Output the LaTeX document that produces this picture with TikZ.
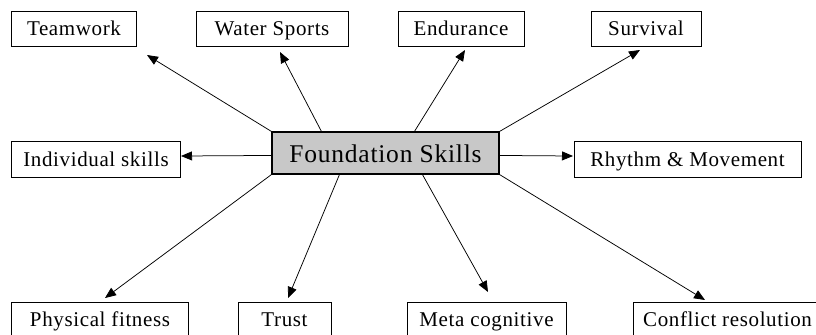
\documentclass[tikz,border=0pt]{standalone}
\usepackage{fontspec}
\setmainfont{Liberation Serif}[LetterSpace=3]
\usetikzlibrary{arrows.meta,calc}
\definecolor{boxgray}{RGB}{200,200,200}
\begin{document}
\begin{tikzpicture}[x=1bp,y=-1bp,
  leaf/.style={draw=black,line width=1bp,fill=white,inner sep=0pt,minimum height=35bp,text height=16bp,text depth=2bp,font=\fontsize{21bp}{24bp}\selectfont},
  hub/.style={draw=black,line width=1.1bp,fill=boxgray,inner sep=0pt,minimum width=227bp,minimum height=42bp,text height=20bp,text depth=2bp,font=\fontsize{25.5bp}{28bp}\selectfont},
  arr/.style={line width=0.75bp,-{Triangle[length=11bp,width=9bp]}}]
\useasboundingbox (0,0) rectangle (816,334);
\node[hub] (F) at (385.5,153) {Foundation Skills};
\node[leaf,minimum width=124bp] (team) at (74,28.5) {Teamwork};
\node[leaf,minimum width=152bp] (water) at (272,28.5) {Water Sports};
\node[leaf,minimum width=126bp] (endu) at (461,28.5) {Endurance};
\node[leaf,minimum width=110bp] (surv) at (646,28.5) {Survival};
\node[leaf,minimum width=168bp,minimum height=36bp] (indiv) at (96,159) {Individual skills};
\node[leaf,minimum width=227bp,minimum height=36bp] (rhythm) at (687.5,159) {Rhythm \& Movement};
\node[leaf,minimum width=176bp] (phys) at (100,319.5) {Physical fitness};
\node[leaf,minimum width=93bp] (trust) at (284.5,319.5) {Trust};
\node[leaf,minimum width=159bp] (meta) at (486.5,319.5) {Meta cognitive};
\node[leaf,minimum width=189bp] (confl) at (727.5,319.5) {Conflict resolution};
% arrow tips
\coordinate (tTeam) at (147,55);
\coordinate (tWater) at (280,52);
\coordinate (tEndu) at (465,50);
\coordinate (tSurv) at (640,50);
\coordinate (tIndiv) at (181,156);
\coordinate (tRhythm) at (573,156);
\coordinate (tPhys) at (105,298);
\coordinate (tTrust) at (288,298);
\coordinate (tMeta) at (488,292);
\coordinate (tConfl) at (705,300);
% arrow starts
\coordinate (sWater) at ($(F.north west)+(50,0)$);
\coordinate (sEndu) at ($(F.north west)+(143,0)$);
\coordinate (sIndiv) at ($(F.north west)+(0,24)$);
\coordinate (sRhythm) at ($(F.north east)+(0,24)$);
\coordinate (sTrust) at ($(F.south west)+(68,0)$);
\coordinate (sMeta) at ($(F.south west)+(151,0)$);
\draw[arr] (F.north west) -- (tTeam);
\draw[arr] (sWater) -- (tWater);
\draw[arr] (sEndu) -- (tEndu);
\draw[arr] (F.north east) -- (tSurv);
\draw[arr] (sIndiv) -- (tIndiv);
\draw[arr] (sRhythm) -- (tRhythm);
\draw[arr] (F.south west) -- (tPhys);
\draw[arr] (sTrust) -- (tTrust);
\draw[arr] (sMeta) -- (tMeta);
\draw[arr] (F.south east) -- (tConfl);
\end{tikzpicture}
\end{document}
